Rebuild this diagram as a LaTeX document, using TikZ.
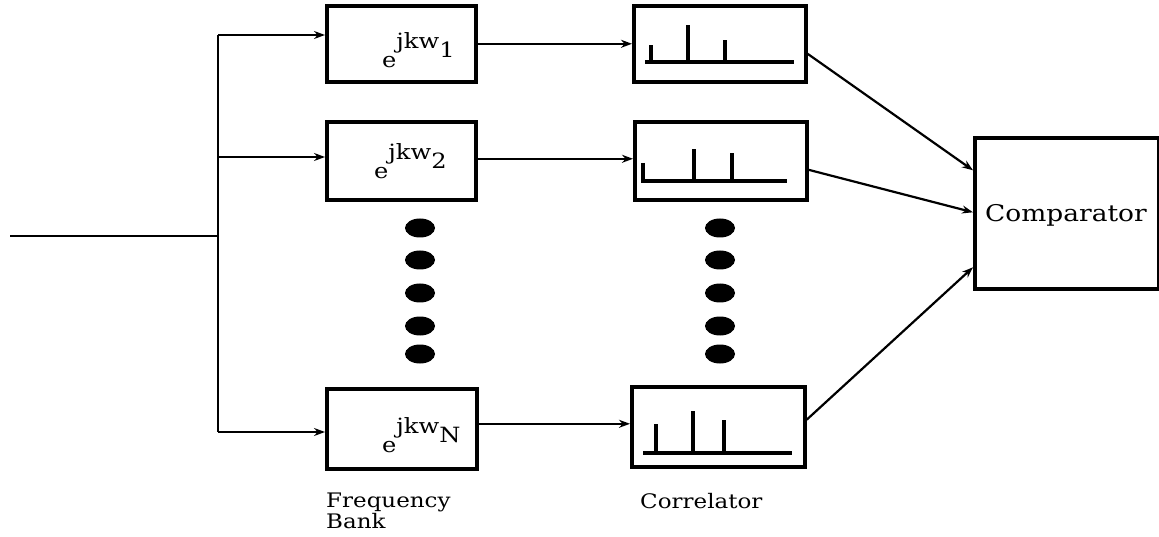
\documentclass[tikz,border=0pt]{standalone}
\usepackage{fontspec}
\setmainfont[FakeStretch=1.15]{DejaVu Serif}
\usetikzlibrary{arrows.meta,shapes.geometric}
\newcommand{\expw}[1]{{\fontsize{21}{21}\selectfont e\raisebox{19pt}{jkw\raisebox{-9pt}{#1}}}}
\begin{document}
\begin{tikzpicture}[x=1pt,y=-1pt,
  blk/.style={draw,line width=3.6pt,inner sep=0pt,anchor=north west},
  conn/.style={line width=2.2pt},
  arr/.style={conn,-{Stealth[length=11pt,width=8pt]}},
  spike/.style={line width=3.6pt},
  dot/.style={fill=black,ellipse,minimum width=30pt,minimum height=19pt,inner sep=0pt},
  lbl/.style={anchor=north west,align=left,inner sep=0pt,font=\fontsize{20}{19}\selectfont}]
\useasboundingbox (0,0) rectangle (1159,537);
% frequency bank boxes
\node[blk,minimum width=149pt,minimum height=76pt] (f1) at (325,4) {};
\node[blk,minimum width=149pt,minimum height=78pt] (f2) at (325,120) {};
\node[blk,minimum width=150pt,minimum height=80pt] (fN) at (325,387) {};
\node[anchor=base west,inner sep=0pt] (t1) at (382,68) {\expw{1}};
\node[anchor=base west,inner sep=0pt] (t2) at (374,179) {\expw{2}};
\node[anchor=base west,inner sep=0pt] (tN) at (382,452) {\expw{N}};
% correlator boxes
\node[blk,minimum width=172pt,minimum height=76pt] (c1) at (632,4) {};
\node[blk,minimum width=172pt,minimum height=78pt] (c2) at (633,120) {};
\node[blk,minimum width=173pt,minimum height=80pt] (cN) at (630,385) {};
% spikes
\draw[spike] (645,62) -- (794,62);
\draw[spike] (651,62) -- (651,45);
\draw[spike] (688,62) -- (688,25);
\draw[spike] (725,62) -- (725,40);
\draw[spike] (643,163) -- (643,181) -- (787,181);
\draw[spike] (694,181) -- (694,149);
\draw[spike] (732,181) -- (732,153);
\draw[spike] (643,453) -- (792,453);
\draw[spike] (656,453) -- (656,424);
\draw[spike] (693,453) -- (693,411);
\draw[spike] (724,453) -- (724,420);
% comparator
\node[blk,minimum width=184pt,minimum height=151pt] (cmp) at (973,136) {};
\node[anchor=base west,inner sep=0pt,font=\fontsize{23}{23}\selectfont] (ct) at (985,222) {Comparator};
% dots
\foreach \y [count=\i] in {228,260,293,326,354} {
  \node[dot] (dl\i) at (420,\y) {};
  \node[dot] (dr\i) at (720,\y) {};
}
% input and branches
\coordinate (in) at (10,236);
\coordinate (j) at (218,236);
\coordinate (b1) at (218,35);
\coordinate (b2) at (218,157);
\coordinate (bN) at (218,432);
\draw[conn] (in) -- (j);
\draw[conn] (b1) -- (bN);
\draw[arr] (b1) -- (b1 -| f1.west);
\draw[arr] (b2) -- (b2 -| f2.west);
\draw[arr] (bN) -- (bN -| fN.west);
% bank to correlator
\draw[arr] (f1.east) -- (c1.west);
\draw[arr] ([yshift=2pt]f2.east) -- ([yshift=2pt]f2.east -| c2.west);
\draw[arr] ([yshift=5pt]fN.east) -- ([yshift=5pt]fN.east -| cN.west);
% correlator to comparator
\draw[arr] ([yshift=-10pt]c1.east) -- ([yshift=43pt]cmp.west);
\draw[arr] ([yshift=-9pt]c2.east) -- ([yshift=1pt]cmp.west);
\draw[arr] ([yshift=7pt]cN.east) -- ([yshift=-54pt]cmp.west);
% labels
\node[lbl] (lf) at (326,493) {Frequency\\Bank};
\node[lbl] (lc) at (640,493) {Correlator};
\end{tikzpicture}
\end{document}
